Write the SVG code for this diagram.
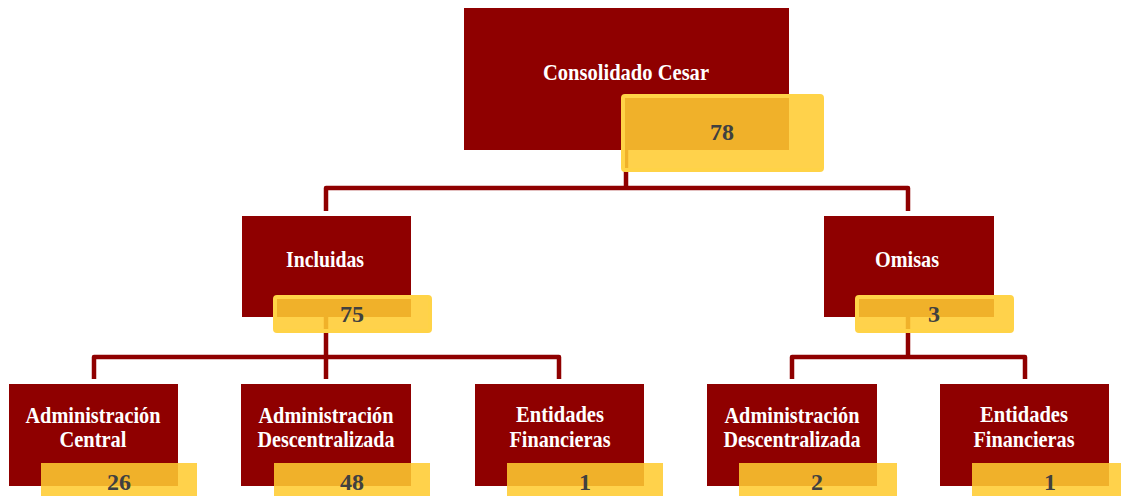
<svg xmlns="http://www.w3.org/2000/svg" width="1121" height="496" viewBox="0 0 1121 496">
<style>
.box{fill:#8F0000}
.num{fill:#FFCB30;fill-opacity:0.87}
.numb{fill:#FFCB30;fill-opacity:0.87;stroke:#FFD347;stroke-width:4}
.lbl{font-family:"Liberation Serif","Times New Roman",serif;font-weight:bold;font-size:24px;fill:#FFFFFF;text-anchor:middle}
.val{font-family:"Liberation Serif","Times New Roman",serif;font-weight:bold;font-size:24px;fill:#404040;text-anchor:middle}
.conn{fill:none;stroke:#8F0000;stroke-width:4.5;stroke-linejoin:round}
</style>
<rect width="1121" height="496" fill="#FFFFFF"/>
<g id="connectors">
<path class="conn" d="M626,150 V188 M326,211 V188 H908 V211"/>
<path class="conn" d="M326,317 V357 M94,379 V357 H559 V379 M326,357 V379"/>
<path class="conn" d="M908,317 V357 M792,379 V357 H1025 V379"/>
</g>
<g id="node-consolidado">
<rect class="box" x="464" y="8" width="325" height="142"/>
<rect class="numb" x="623" y="96" width="199" height="74" rx="2"/>
<text class="lbl" x="626" y="80" textLength="166" lengthAdjust="spacingAndGlyphs">Consolidado Cesar</text>
<text class="val" x="722" y="140">78</text>
</g>
<g id="node-incluidas">
<rect class="box" x="242" y="216" width="169" height="101"/>
<rect class="numb" x="275" y="297" width="155" height="34" rx="2"/>
<text class="lbl" x="325" y="267" textLength="78" lengthAdjust="spacingAndGlyphs">Incluidas</text>
<text class="val" x="352" y="322">75</text>
</g>
<g id="node-omisas">
<rect class="box" x="824" y="216" width="170" height="101"/>
<rect class="numb" x="857" y="297" width="155" height="34" rx="2"/>
<text class="lbl" x="907" y="267" textLength="64" lengthAdjust="spacingAndGlyphs">Omisas</text>
<text class="val" x="934" y="322">3</text>
</g>
<g id="node-adm-central">
<rect class="box" x="9" y="384" width="169" height="102"/>
<rect class="num" x="41" y="463" width="156" height="40"/>
<text class="lbl" x="93" y="423" textLength="135" lengthAdjust="spacingAndGlyphs">Administración</text>
<text class="lbl" x="93" y="447" textLength="67" lengthAdjust="spacingAndGlyphs">Central</text>
<text class="val" x="119" y="490">26</text>
</g>
<g id="node-adm-descentralizada-1">
<rect class="box" x="241" y="384" width="170" height="102"/>
<rect class="num" x="274" y="463" width="156" height="40"/>
<text class="lbl" x="326" y="423" textLength="135" lengthAdjust="spacingAndGlyphs">Administración</text>
<text class="lbl" x="326" y="447" textLength="137" lengthAdjust="spacingAndGlyphs">Descentralizada</text>
<text class="val" x="352" y="490">48</text>
</g>
<g id="node-entidades-1">
<rect class="box" x="475" y="384" width="169" height="102"/>
<rect class="num" x="507" y="463" width="156" height="40"/>
<text class="lbl" x="560" y="422" textLength="88" lengthAdjust="spacingAndGlyphs">Entidades</text>
<text class="lbl" x="560" y="447" textLength="101" lengthAdjust="spacingAndGlyphs">Financieras</text>
<text class="val" x="585" y="490">1</text>
</g>
<g id="node-adm-descentralizada-2">
<rect class="box" x="707" y="384" width="170" height="102"/>
<rect class="num" x="739" y="463" width="158" height="40"/>
<text class="lbl" x="792" y="423" textLength="135" lengthAdjust="spacingAndGlyphs">Administración</text>
<text class="lbl" x="792" y="447" textLength="137" lengthAdjust="spacingAndGlyphs">Descentralizada</text>
<text class="val" x="817" y="490">2</text>
</g>
<g id="node-entidades-2">
<rect class="box" x="940" y="384" width="169" height="102"/>
<rect class="num" x="972" y="463" width="158" height="40"/>
<text class="lbl" x="1024" y="422" textLength="88" lengthAdjust="spacingAndGlyphs">Entidades</text>
<text class="lbl" x="1024" y="447" textLength="101" lengthAdjust="spacingAndGlyphs">Financieras</text>
<text class="val" x="1050" y="490">1</text>
</g>
</svg>
